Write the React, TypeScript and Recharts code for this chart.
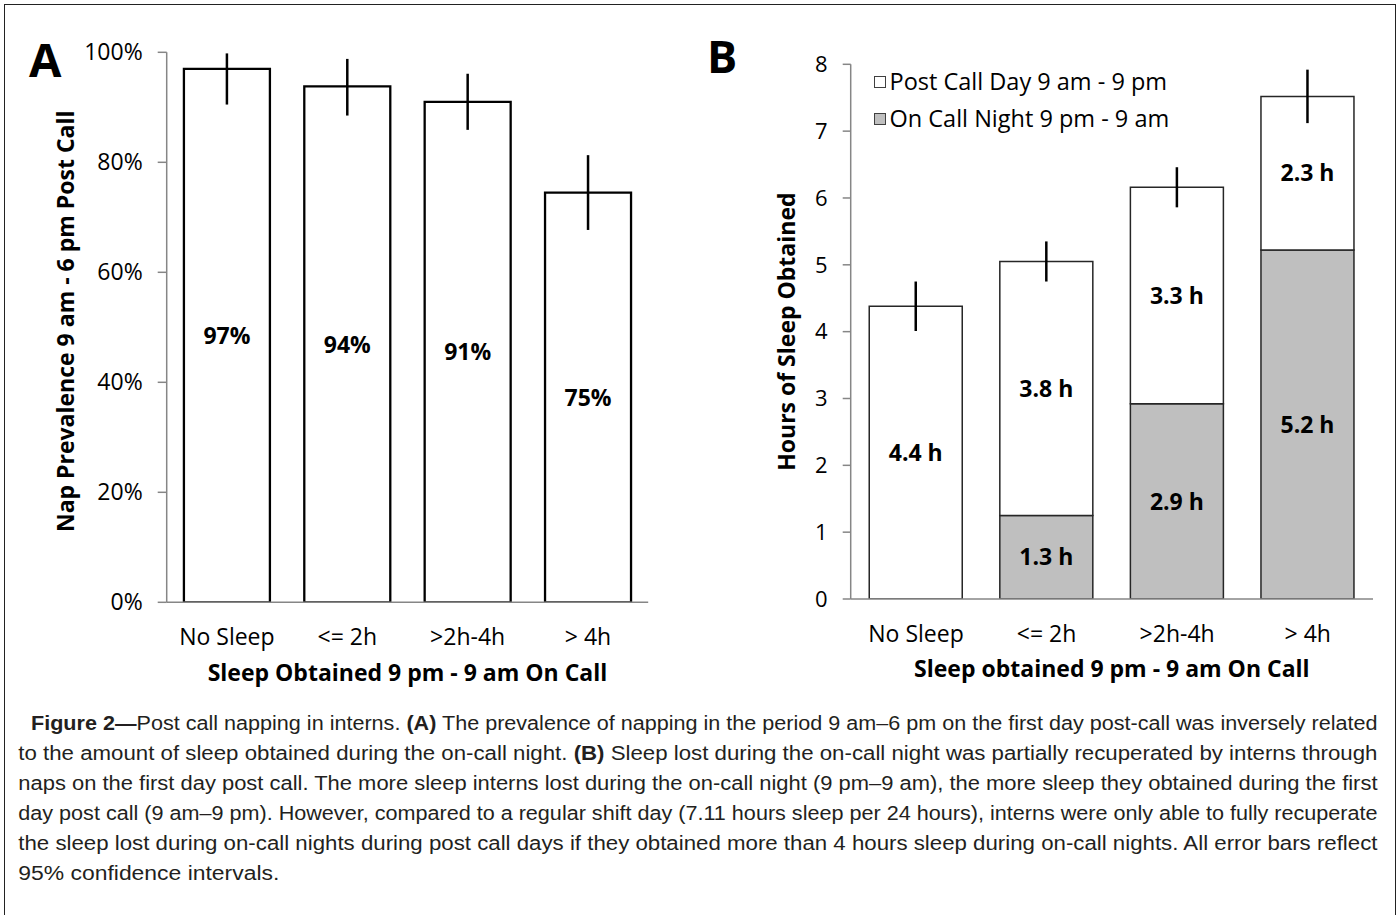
import React from 'react';
import { BarChart, Bar, XAxis, YAxis, ErrorBar, LabelList, Legend, Label } from 'recharts';

const categories = ['No Sleep', '<= 2h', '>2h-4h', '> 4h'];
const edgeTicks = [0, 1, 2, 3, 4];

// panel A - nap prevalence (%)
const napPct = [97.0, 93.8, 91.0, 74.5];
const napErr = [[6.5, 2.8], [5.3, 5.0], [5.1, 5.1], [6.8, 6.8]];
const napLabels = ['97%', '94%', '91%', '75%'];
const pctTicks = [0, 20, 40, 60, 80, 100];

// panel B - hours of sleep
const nightHours = [0, 1.25, 2.92, 5.22];
const dayHours = [4.38, 3.8, 3.24, 2.3];
const totalErr = [0.37, 0.3, 0.3, 0.4];
const nightLabels = ['', '1.3 h', '2.9 h', '5.2 h'];
const dayLabels = ['4.4 h', '3.8 h', '3.3 h', '2.3 h'];
const hourTicks = [0, 1, 2, 3, 4, 5, 6, 7, 8];

const AXIS = '#868686';
const NIGHT = '#bfbfbf';
const DAY = '#ffffff';

const legendItems = [
  { name: 'Post Call Day 9 am - 9 pm', fill: DAY },
  { name: 'On Call Night 9 pm - 9 am', fill: NIGHT },
];

const captionLines = [
  [
    { t: 'Figure 2—', b: true },
    { t: 'Post call napping in interns. ' },
    { t: '(A)', b: true },
    { t: ' The prevalence of napping in the period 9 am–6 pm on the first day post-call was inversely related' },
  ],
  [
    { t: 'to the amount of sleep obtained during the on-call night. ' },
    { t: '(B)', b: true },
    { t: ' Sleep lost during the on-call night was partially recuperated by interns through' },
  ],
  [{ t: 'naps on the first day post call. The more sleep interns lost during the on-call night (9 pm–9 am), the more sleep they obtained during the first' }],
  [{ t: 'day post call (9 am–9 pm). However, compared to a regular shift day (7.11 hours sleep per 24 hours), interns were only able to fully recuperate' }],
  [{ t: 'the sleep lost during on-call nights during post call days if they obtained more than 4 hours sleep during on-call nights. All error bars reflect' }],
  [{ t: '95% confidence intervals.' }],
];

const napData = categories.map((cat, i) => ({
  cat,
  pct: napPct[i],
  err: napErr[i],
  label: napLabels[i],
}));

const sleepData = categories.map((cat, i) => ({
  cat,
  night: nightHours[i],
  day: dayHours[i],
  err: totalErr[i],
  nightLabel: nightLabels[i],
  dayLabel: dayLabels[i],
}));

const SleepLegend = () => (
  <div style={{ fontSize: 23.5, lineHeight: '37px', color: '#000' }}>
    {legendItems.map((it) => (
      <div key={it.name} style={{ display: 'flex', alignItems: 'center', whiteSpace: 'nowrap' }}>
        <span
          style={{
            display: 'inline-block',
            width: 12,
            height: 12,
            boxSizing: 'border-box',
            border: '1px solid #404040',
            background: it.fill,
            marginRight: 4,
          }}
        />
        {it.name}
      </div>
    ))}
  </div>
);

const axisLine = { stroke: AXIS, strokeWidth: 1.5 };

export default function App() {
  return (
    <div
      style={{
        position: 'absolute',
        left: 0,
        top: 0,
        width: 1398,
        height: 915,
        overflow: 'hidden',
        background: '#fff',
        fontFamily: "'Open Sans', sans-serif",
      }}
    >
      <div
        style={{
          position: 'absolute',
          left: 4,
          top: 4,
          width: 1392,
          height: 1000,
          border: '1.5px solid #222',
          boxSizing: 'border-box',
        }}
      />

      <svg width={1398} height={915} style={{ position: 'absolute', left: 0, top: 0 }}>
        <text x={29} y={77.3} fontSize={47} fontWeight="bold" fill="#000">A</text>
        <text x={707} y={73.3} fontSize={45} fontWeight="bold" fill="#000">B</text>
        <g fontFamily="'Liberation Sans', Arial, sans-serif" fontSize={19.5} fill="#231f20">
          {captionLines.map((line, i) => (
            <text
              key={i}
              x={i === 0 ? 31 : 18.3}
              y={730 + i * 30}
              textLength={i === 0 ? 1346.5 : i === 5 ? 261 : 1359.2}
              lengthAdjust="spacingAndGlyphs"
            >
              {line.map((seg, j) => (
                <tspan key={j} fontWeight={seg.b ? 'bold' : 'normal'}>{seg.t}</tspan>
              ))}
            </text>
          ))}
        </g>
      </svg>

      <div style={{ position: 'absolute', left: 0, top: 0 }}>
        <BarChart
          width={700}
          height={700}
          data={napData}
          margin={{ top: 52.3, right: 51.8, bottom: 95.7, left: 106.7 }}
          barCategoryGap="14.3%"
        >
          <XAxis
            dataKey="cat"
            interval={0}
            height={1}
            tickLine={false}
            tickSize={8}
            tickMargin={18.4}
            axisLine={axisLine}
            tick={{ fill: '#000', fontSize: 23 }}
          >
            <Label
              value="Sleep Obtained 9 pm - 9 am On Call"
              position="bottom"
              offset={61.4}
              fill="#000"
              fontSize={23}
              fontWeight="bold"
            />
          </XAxis>
          <XAxis
            xAxisId="edge"
            type="number"
            domain={[0, 4]}
            ticks={edgeTicks}
            allowDataOverflow
            height={1}
            axisLine={false}
            tickSize={8}
            tick={false}
            tickLine={axisLine}
          />
          <YAxis
            width={60}
            domain={[0, 100]}
            ticks={pctTicks}
            allowDataOverflow
            interval={0}
            tickSize={9}
            tickMargin={15}
            tickFormatter={(v) => `${v}%`}
            axisLine={axisLine}
            tickLine={axisLine}
            tick={{ fill: '#000', fontSize: 23 }}
          >
            <Label
              value="Nap Prevalence 9 am - 6 pm Post Call"
              angle={-90}
              position="left"
              offset={40.9}
              dy={-6}
              textAnchor="middle"
              fill="#000"
              fontSize={23}
              fontWeight="bold"
            />
          </YAxis>
          <Bar dataKey="pct" fill="#fff" stroke="#000" strokeWidth={2.3} isAnimationActive={false}>
            <ErrorBar dataKey="err" width={0} stroke="#000" strokeWidth={2.5} isAnimationActive={false} />
            <LabelList dataKey="label" position="center" fill="#000" fontSize={23} fontWeight="bold" />
          </Bar>
        </BarChart>
      </div>

      <div style={{ position: 'absolute', left: 700, top: 0 }}>
        <BarChart
          width={698}
          height={700}
          data={sleepData}
          margin={{ top: 64.3, right: 25, bottom: 99, left: 90.7 }}
          barCategoryGap="14.2%"
        >
          <XAxis
            dataKey="cat"
            interval={0}
            height={1}
            tickLine={false}
            tickSize={8}
            tickMargin={18.5}
            axisLine={axisLine}
            tick={{ fill: '#000', fontSize: 23 }}
          >
            <Label
              value="Sleep obtained 9 pm - 9 am On Call"
              position="bottom"
              offset={61}
              fill="#000"
              fontSize={23}
              fontWeight="bold"
            />
          </XAxis>
          <XAxis
            xAxisId="edge"
            type="number"
            domain={[0, 4]}
            ticks={edgeTicks}
            allowDataOverflow
            height={1}
            axisLine={false}
            tickSize={8}
            tick={false}
            tickLine={axisLine}
          />
          <YAxis
            width={60}
            domain={[0, 8]}
            ticks={hourTicks}
            allowDataOverflow
            interval={0}
            tickSize={8}
            tickMargin={15}
            axisLine={axisLine}
            tickLine={axisLine}
            tick={{ fill: '#000', fontSize: 22 }}
          >
            <Label
              value="Hours of Sleep Obtained"
              angle={-90}
              position="left"
              offset={3.9}
              textAnchor="middle"
              fill="#000"
              fontSize={23}
              fontWeight="bold"
            />
          </YAxis>
          <Legend
            layout="vertical"
            align="center"
            verticalAlign="middle"
            wrapperStyle={{ left: 173.5, top: 63, width: 340 }}
            content={() => <SleepLegend />}
          />
          <Bar dataKey="night" stackId="s" fill={NIGHT} stroke="#262626" strokeWidth={1.5} isAnimationActive={false}>
            <LabelList dataKey="nightLabel" position="center" fill="#000" fontSize={23} fontWeight="bold" />
          </Bar>
          <Bar dataKey="day" stackId="s" fill={DAY} stroke="#262626" strokeWidth={1.5} isAnimationActive={false}>
            <ErrorBar dataKey="err" width={0} stroke="#000" strokeWidth={2.5} isAnimationActive={false} />
            <LabelList dataKey="dayLabel" position="center" fill="#000" fontSize={23} fontWeight="bold" />
          </Bar>
        </BarChart>
      </div>
    </div>
  );
}
